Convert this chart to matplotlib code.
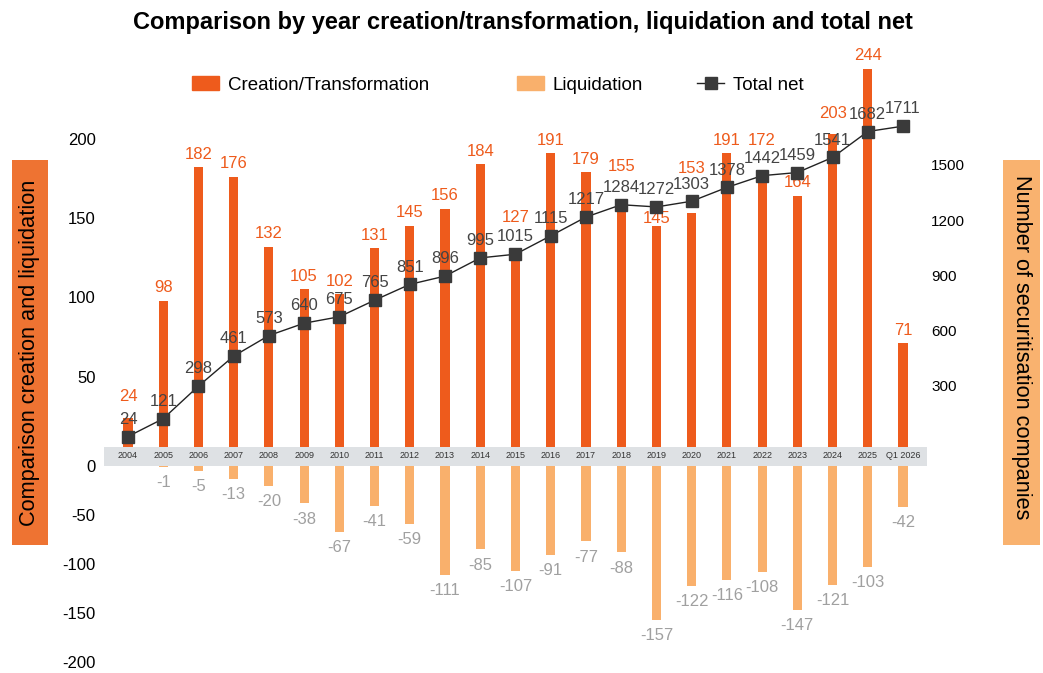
import numpy as np
import matplotlib
matplotlib.use("Agg")
import matplotlib.pyplot as plt
from matplotlib.patches import Rectangle, Patch
from matplotlib.lines import Line2D

plt.rcParams['font.family'] = ['Liberation Sans', 'DejaVu Sans']

years = ['2004', '2005', '2006', '2007', '2008', '2009', '2010', '2011', '2012',
         '2013', '2014', '2015', '2016', '2017', '2018', '2019', '2020', '2021',
         '2022', '2023', '2024', '2025', 'Q1 2026']
creation = [24, 98, 182, 176, 132, 105, 102, 131, 145, 156, 184, 127, 191, 179,
            155, 145, 153, 191, 172, 164, 203, 244, 71]
liquidation = [0, -1, -5, -13, -20, -38, -67, -41, -59, -111, -85, -107, -91, -77,
               -88, -157, -122, -116, -108, -147, -121, -103, -42]
total_net = [24, 121, 298, 461, 573, 640, 675, 765, 851, 896, 995, 1015, 1115,
             1217, 1284, 1272, 1303, 1378, 1442, 1459, 1541, 1682, 1711]

c_create = '#ee5b1c'
c_liq = '#f9b06c'
c_net = '#3a3a3a'

# creation labels that would sit on top of the net line get nudged (pixels, up = +)
nudge = {0: 8, 11: 24, 14: 31, 15: -6, 16: 32, 18: 30, 20: 7}


# positive side stretched, negative side compressed and pushed below the year band
def fwd(v):
    v = np.asarray(v, dtype=float)
    return np.where(v >= 0, v * 1.586, v * 0.98 - 10)


def inv(t):
    t = np.asarray(t, dtype=float)
    return np.where(t >= 0, t / 1.586, np.where(t <= -10, (t + 10) / 0.98, 0.0))


fig = plt.figure(figsize=(10.43, 6.73), dpi=100)
ax = fig.add_axes([104 / 1043, 3 / 673, 823 / 1043, 620 / 673])
ax.set_yscale('function', functions=(fwd, inv))

x = np.arange(len(years))
w = 0.26
ax.bar(x, creation, width=w, color=c_create, zorder=2)
ax.bar(x, liquidation, width=w, color=c_liq, zorder=2)

ax.set_xlim(-0.68, len(years) - 1 + 0.68)
ax.set_ylim(-208.2, 256)

# grey band carrying the year labels
ax.axhspan(-0.5, 5.7, color='#dee1e4', zorder=3, lw=0)
for i, yr in enumerate(years):
    ax.text(i, 0, yr, ha='center', va='center', fontsize=6.5, color='#333333', zorder=4)

for i, v in enumerate(creation):
    dy = 4 + nudge.get(i, 0) * 0.72
    ax.annotate(str(v), (i, v), xytext=(0, dy), textcoords='offset points',
                ha='center', va='bottom', fontsize=12, color=c_create, zorder=6)
for i, v in enumerate(liquidation):
    if v == 0:
        continue
    ax.annotate(str(v), (i, v), xytext=(0, -6), textcoords='offset points',
                ha='center', va='top', fontsize=12, color='#a0a0a0')

ax.set_yticks([-200, -150, -100, -50, -1e-9, 50, 100, 150, 200],
              ['-200', '-150', '-100', '-50', '0', '50', '100', '150', '200'])
ax.set_xticks([])
ax.tick_params(axis='y', length=0, pad=6, labelsize=12, labelcolor='black')
for s in ax.spines.values():
    s.set_visible(False)

ax2 = ax.twinx()
ax2.plot(x, total_net, color='#222222', lw=1, marker='s', markersize=8,
         markerfacecolor=c_net, markeredgecolor=c_net, zorder=5)
for i, v in enumerate(total_net):
    ax2.annotate(str(v), (i, v), xytext=(0, 7), textcoords='offset points',
                 ha='center', va='bottom', fontsize=12, color='#444444')
ax2.set_ylim(-1245, 2125)
ax2.set_yticks([300, 600, 900, 1200, 1500])
ax2.tick_params(axis='y', length=0, pad=3, labelsize=11, labelcolor='black')
for s in ax2.spines.values():
    s.set_visible(False)

fig.text(523 / 1043, 1 - 22 / 673,
         'Comparison by year creation/transformation, liquidation and total net',
         ha='center', va='center', fontsize=17, fontweight='bold')

# legend entries spread along the top
entries = [
    (Patch(color=c_create), 'Creation/Transformation', 192),
    (Patch(color=c_liq), 'Liquidation', 517),
    (Line2D([], [], color='#222222', lw=1, marker='s', markersize=8,
            markerfacecolor=c_net, markeredgecolor=c_net), 'Total net', 697),
]
for h, lab, px in entries:
    fig.legend([h], [lab], loc='center left', bbox_to_anchor=(px / 1043, 1 - 85 / 673),
               frameon=False, fontsize=13.5, borderpad=0, borderaxespad=0,
               handlelength=1.45, handleheight=0.75, handletextpad=0.45)

# axis title boxes
fig.add_artist(Rectangle((12 / 1043, 1 - 545 / 673), 36 / 1043, 385 / 673,
                         transform=fig.transFigure, color='#ee7332', lw=0))
fig.text(30 / 1043, 1 - 353 / 673, 'Comparison creation and liquidation',
         rotation=90, ha='center', va='center', fontsize=15.7)
fig.add_artist(Rectangle((1003 / 1043, 1 - 545 / 673), 37 / 1043, 385 / 673,
                         transform=fig.transFigure, color='#f9b26f', lw=0))
fig.text(1021.5 / 1043, 1 - 347 / 673, 'Number of securitisation companies',
         rotation=270, ha='center', va='center', fontsize=15.7)

fig.savefig('out.png', dpi=100)
